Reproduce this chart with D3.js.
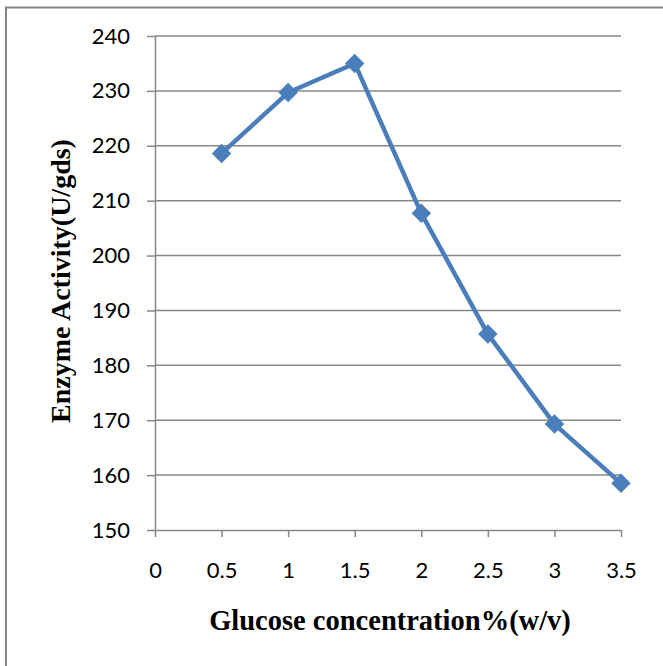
<!DOCTYPE html>
<html><head><meta charset="utf-8">
<script src="https://cdn.jsdelivr.net/npm/d3@7"></script>
<style>body{margin:0;background:#fff}svg{display:block}</style>
</head><body>
<svg id="c" width="663" height="666"></svg>
<script>
const concentrations = [0.5, 1, 1.5, 2, 2.5, 3, 3.5];
const activity = [218.6, 229.7, 235.0, 207.7, 185.7, 169.3, 158.5];
const xTicks = [0, 0.5, 1, 1.5, 2, 2.5, 3, 3.5];
const yTicks = [150, 160, 170, 180, 190, 200, 210, 220, 230, 240];
const xTitle = "Glucose concentration%(w/v)";
const yTitle = "Enzyme Activity(U/gds)";

const svg = d3.select("#c");
const W = 663, H = 666;
const m = {left:155, right:621, top:36, bottom:530};
const x = d3.scaleLinear().domain([0,3.5]).range([m.left, m.right]);
const y = d3.scaleLinear().domain([150,240]).range([m.bottom, m.top]);
const gray = "#878787";

svg.append("rect").attr("x",6).attr("y",7.5).attr("width",W+20).attr("height",H+20)
  .attr("fill","#fff").attr("stroke",gray).attr("stroke-width",2);

// gridlines
svg.append("g").selectAll("line").data(yTicks.filter(d=>d>150)).join("line")
  .attr("x1",m.left).attr("x2",m.right).attr("y1",d=>y(d)).attr("y2",d=>y(d))
  .attr("stroke",gray).attr("stroke-width",1.5);

const fontTick = "Lato, 'Liberation Sans', sans-serif";
const yAxis = svg.append("g").attr("transform",`translate(${m.left},0)`)
  .call(d3.axisLeft(y).tickValues(yTicks).tickSize(8).tickPadding(17).tickSizeOuter(0));
const xAxis = svg.append("g").attr("transform",`translate(0,${m.bottom})`)
  .call(d3.axisBottom(x).tickValues(xTicks).tickSize(7).tickPadding(25).tickFormat(d3.format("")).tickSizeOuter(0));
[yAxis,xAxis].forEach(a=>{
  a.select(".domain").attr("stroke",gray).attr("stroke-width",1.5);
  a.selectAll(".tick line").attr("stroke",gray).attr("stroke-width",1.5);
  a.selectAll(".tick text").attr("fill","#000").style("font-family",fontTick).style("font-size","22px");
});

const line = d3.line().x((d,i)=>x(concentrations[i])).y(d=>y(d));
svg.append("path").datum(activity).attr("d",line).attr("fill","none")
  .attr("stroke","#4a7ebb").attr("stroke-width",4.5).attr("stroke-linejoin","round");
svg.append("g").selectAll("path").data(activity).join("path")
  .attr("d",d3.symbol(d3.symbolSquare, 190))
  .attr("transform",(d,i)=>`translate(${x(concentrations[i])},${y(d)}) rotate(45)`)
  .attr("fill","#4a7ebb");

svg.append("text").attr("x",390).attr("y",630).attr("text-anchor","middle")
  .style("font-family","'Liberation Serif', serif").style("font-weight","bold").style("font-size","28.5px")
  .text(xTitle);
svg.append("text").attr("transform",`translate(70,281) rotate(-90)`).attr("text-anchor","middle")
  .style("font-family","'Liberation Serif', serif").style("font-weight","bold").style("font-size","28px")
  .text(yTitle);
</script>
</body></html>
